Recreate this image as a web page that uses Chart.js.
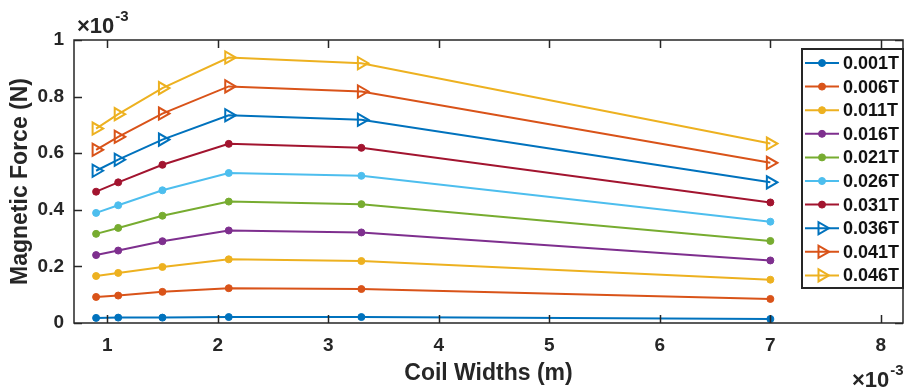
<!DOCTYPE html>
<html lang="en">
<head>
    <meta charset="UTF-8">
    <title>Magnetic Force vs Coil Width</title>
    <style>
        body { margin: 0; background: #fff; }
        #wrap { width: 912px; height: 392px; }
    </style>
    <script src="https://cdn.jsdelivr.net/npm/chart.js"></script>
</head>
<body>
    <div id="wrap"><canvas id="forceChart" width="912" height="392"></canvas></div>

    <script>
        // Coil widths (x 10^-3 m)
        const coilWidths = [0.9, 1.1, 1.5, 2.1, 3.3, 7];

        // Field strengths for each curve
        const fieldLabels = ['0.001T', '0.006T', '0.011T', '0.016T', '0.021T',
                             '0.026T', '0.031T', '0.036T', '0.041T', '0.046T'];

        // Magnetic force per field strength (x 10^-3 N)
        const f001 = [0.018, 0.019, 0.019, 0.021, 0.021, 0.014];
        const f006 = [0.092, 0.097, 0.110, 0.123, 0.120, 0.085];
        const f011 = [0.166, 0.177, 0.198, 0.225, 0.219, 0.153];
        const f016 = [0.240, 0.256, 0.289, 0.327, 0.320, 0.221];
        const f021 = [0.315, 0.336, 0.379, 0.429, 0.420, 0.290];
        const f026 = [0.389, 0.416, 0.469, 0.530, 0.520, 0.358];
        const f031 = [0.464, 0.497, 0.559, 0.633, 0.619, 0.426];
        const f036 = [0.538, 0.577, 0.648, 0.734, 0.718, 0.497];
        const f041 = [0.612, 0.658, 0.740, 0.836, 0.818, 0.566];
        const f046 = [0.687, 0.738, 0.830, 0.938, 0.918, 0.634];

        const xTickValues = [1, 2, 3, 4, 5, 6, 7, 8];
        const yTickValues = [0, 0.2, 0.4, 0.6, 0.8, 1];

        const forceSeries = [f001, f006, f011, f016, f021, f026, f031, f036, f041, f046];

        // MATLAB default colour order
        const colors = ['#0072BD', '#D95319', '#EDB120', '#7E2F8E', '#77AC30',
                        '#4DBEEE', '#A2142F', '#0072BD', '#D95319', '#EDB120'];

        const FONT = '"Liberation Sans", Arial, sans-serif';
        const INK = '#262626';

        const datasets = forceSeries.map((vals, i) => {
            const tri = i >= 7;
            return {
                label: fieldLabels[i],
                data: vals.map((y, k) => ({ x: coilWidths[k], y: y })),
                borderColor: colors[i],
                backgroundColor: colors[i],
                borderWidth: 2,
                pointStyle: tri ? 'triangle' : 'circle',
                pointRotation: tri ? 90 : 0,
                pointRadius: tri ? 7 : 3.5,
                pointBorderWidth: tri ? 2 : 1,
                pointBackgroundColor: tri ? 'rgba(255,255,255,0)' : colors[i],
                tension: 0
            };
        });

        // boxed axes with inward ticks, titles, exponents and the legend
        const matlabAxes = {
            id: 'matlabAxes',
            afterDraw(chart) {
                const g = chart.ctx;
                const a = chart.chartArea;
                const xs = chart.scales.x, ys = chart.scales.y;
                const L = Math.round(a.left), R = Math.round(a.right);
                const T = Math.round(a.top), B = Math.round(a.bottom);
                g.save();
                g.setLineDash([]);
                g.globalAlpha = 1;

                // axis titles
                g.fillStyle = INK;
                g.font = 'bold 23px ' + FONT;
                g.textAlign = 'center';
                g.textBaseline = 'middle';
                g.fillText('Coil Widths (m)', (L + R) / 2, 374);
                g.save();
                g.translate(21, (T + B) / 2);
                g.rotate(-Math.PI / 2);
                g.fillText('Magnetic Force (N)', 0, 0);
                g.restore();

                // exponent labels
                g.textAlign = 'left';
                g.textBaseline = 'alphabetic';
                const expo = (x, y) => {
                    g.font = 'bold 22px ' + FONT;
                    g.fillText('\u00d710', x, y);
                    const w = g.measureText('\u00d710').width;
                    g.font = 'bold 15px ' + FONT;
                    g.fillText('-3', x + w + 1, y - 12);
                };
                expo(77, 33);
                expo(852, 387);

                // box and inward ticks
                g.strokeStyle = INK;
                g.lineWidth = 1.5;
                g.beginPath();
                g.moveTo(L, T); g.lineTo(R, T); g.lineTo(R, B); g.lineTo(L, B); g.closePath();
                const tl = 8;
                xTickValues.forEach(v => {
                    const px = Math.round(xs.getPixelForValue(v)) + 0.5;
                    g.moveTo(px, B); g.lineTo(px, B - tl);
                    g.moveTo(px, T); g.lineTo(px, T + tl);
                });
                yTickValues.forEach(v => {
                    const py = Math.round(ys.getPixelForValue(v)) + 0.5;
                    g.moveTo(L, py); g.lineTo(L + tl, py);
                    g.moveTo(R, py); g.lineTo(R - tl, py);
                });
                g.stroke();

                // legend
                const lx = 802, ly = 49, lw = 101, lh = 239;
                g.fillStyle = '#fff';
                g.fillRect(lx, ly, lw, lh);
                g.strokeStyle = INK;
                g.lineWidth = 2;
                g.strokeRect(lx, ly, lw, lh);
                chart.data.datasets.forEach((ds, i) => {
                    const cy = 63 + i * 23.6;
                    g.strokeStyle = ds.borderColor;
                    g.lineWidth = 2;
                    g.beginPath();
                    g.moveTo(805, cy); g.lineTo(839, cy);
                    g.stroke();
                    g.fillStyle = ds.pointBackgroundColor;
                    g.lineWidth = ds.pointBorderWidth;
                    Chart.helpers.drawPoint(g, {
                        pointStyle: ds.pointStyle,
                        rotation: ds.pointRotation,
                        radius: ds.pointRadius,
                        borderWidth: ds.pointBorderWidth
                    }, 822, cy);
                    g.fillStyle = '#111';
                    g.font = 'bold 18px ' + FONT;
                    g.textBaseline = 'middle';
                    g.fillText(ds.label, 843, cy + 1);
                });
                g.restore();
            }
        };

        const ctx = document.getElementById('forceChart').getContext('2d');
        new Chart(ctx, {
            type: 'line',
            data: { datasets: datasets },
            options: {
                responsive: false,
                animation: false,
                devicePixelRatio: 1,
                layout: { padding: { top: 40, right: 1, left: 0, bottom: 0 } },
                plugins: { legend: { display: false }, tooltip: { enabled: false } },
                scales: {
                    x: {
                        type: 'linear',
                        min: 0.7,
                        max: 8.2,
                        grid: { display: false },
                        border: { display: false },
                        afterBuildTicks: s => { s.ticks = xTickValues.map(v => ({ value: v })); },
                        afterFit: s => { s.height = 69; },
                        ticks: {
                            color: INK,
                            padding: 3,
                            maxRotation: 0,
                            font: { family: FONT, size: 19, weight: 'bold' },
                            callback: v => String(v)
                        }
                    },
                    y: {
                        min: 0,
                        max: 1,
                        grid: { display: false },
                        border: { display: false },
                        afterBuildTicks: s => { s.ticks = yTickValues.map(v => ({ value: v })); },
                        afterFit: s => { s.width = 74; },
                        ticks: {
                            color: INK,
                            padding: 2,
                            font: { family: FONT, size: 19, weight: 'bold' },
                            callback: v => (v === 0 || v === 1) ? String(v) : v.toFixed(1)
                        }
                    }
                }
            },
            plugins: [matlabAxes]
        });
    </script>
</body>
</html>
